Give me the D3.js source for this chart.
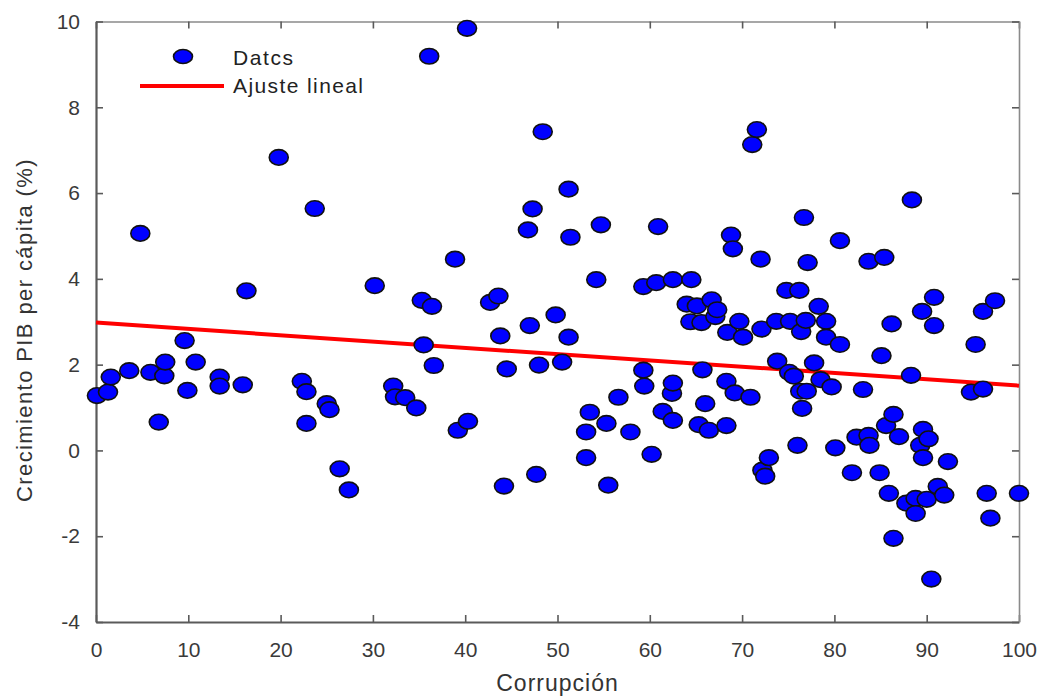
<!DOCTYPE html>
<html>
<head>
<meta charset="utf-8">
<script src="https://cdn.jsdelivr.net/npm/d3@7"></script>
<style>
  body { margin: 0; background: #fff; }
  svg text { font-family: "Liberation Sans", Arial, sans-serif; }
</style>
</head>
<body>
<svg id="chart" width="1045" height="699"></svg>
<script>
// Datos
const corrupcion = [
  0.1, 1.3, 1.6, 3.6, 4.8, 5.9, 6.8, 7.4, 7.5, 9.6, 9.9, 10.8, 13.4, 13.4, 15.9, 16.3,
  19.8, 22.3, 22.8, 22.8, 23.7, 25.0, 25.3, 26.4, 27.4, 30.2, 32.2, 32.4, 33.5, 34.7,
  35.3, 35.5, 36.1, 36.4, 36.6, 38.9, 39.2, 40.2, 40.3, 42.7, 43.6, 43.8, 44.2, 44.5,
  46.8, 47.0, 47.3, 47.7, 48.0, 48.4, 49.8, 50.5, 51.2, 51.2, 51.4, 53.1, 53.1, 53.5,
  54.2, 54.7, 55.3, 55.5, 56.6, 57.9, 59.3, 59.3, 59.4, 60.2, 60.7, 60.9, 61.4, 62.4,
  62.5, 62.5, 62.5, 64.0, 64.4, 64.5, 65.1, 65.3, 65.6, 65.7, 66.0, 66.4, 66.7, 67.1,
  67.3, 68.3, 68.3, 68.4, 68.8, 69.0, 69.2, 69.7, 70.1, 70.9, 71.1, 71.6, 72.0, 72.1,
  72.2, 72.5, 72.9, 73.7, 73.8, 74.8, 75.1, 75.2, 75.6, 76.0, 76.2, 76.3, 76.4, 76.5,
  76.7, 76.9, 77.0, 77.1, 77.8, 78.3, 78.5, 79.1, 79.1, 79.7, 80.1, 80.6, 80.6, 81.9,
  82.4, 83.1, 83.7, 83.7, 83.8, 84.9, 85.1, 85.4, 85.6, 85.9, 86.2, 86.4, 86.4, 87.0,
  87.8, 88.3, 88.4, 88.8, 88.8, 89.3, 89.5, 89.6, 89.6, 90.0, 90.2, 90.5, 90.8, 90.8,
  91.2, 91.9, 92.3, 94.8, 95.3, 96.1, 96.1, 96.5, 96.9, 97.4, 100.0
];
const crecimiento = [
  1.28, 1.36, 1.71, 1.86, 5.06, 1.82, 0.66, 1.74, 2.06, 2.56, 1.40, 2.06, 1.71, 1.50, 1.53, 3.72,
  6.83, 1.61, 1.37, 0.63, 5.64, 1.09, 0.95, -0.43, -0.92, 3.84, 1.50, 1.25, 1.23, 0.99,
  3.50, 2.46, 9.19, 3.36, 1.98, 4.46, 0.47, 9.84, 0.68, 3.45, 3.60, 2.67, -0.83, 1.90,
  5.14, 2.91, 5.63, -0.56, 1.99, 7.43, 3.16, 2.06, 6.09, 2.64, 4.97, 0.43, -0.17, 0.89,
  3.98, 5.26, 0.63, -0.81, 1.24, 0.43, 3.82, 1.87, 1.50, -0.09, 3.91, 5.22, 0.91, 1.33,
  3.98, 1.57, 0.70, 3.41, 3.00, 3.98, 3.37, 0.60, 2.98, 1.88, 1.09, 0.47, 3.51, 3.12,
  3.28, 1.61, 0.58, 2.75, 5.02, 4.70, 1.34, 3.01, 2.64, 1.24, 7.13, 7.48, 4.46, 2.83,
  -0.46, -0.60, -0.17, 3.01, 2.08, 3.73, 1.82, 3.01, 1.73, 0.12, 3.73, 1.38, 2.77, 0.98,
  5.43, 3.03, 1.38, 4.38, 2.04, 3.36, 1.65, 3.01, 2.64, 1.48, 0.06, 4.89, 2.47, -0.52,
  0.31, 1.42, 4.41, 0.35, 0.12, -0.52, 2.21, 4.50, 0.58, -1.00, 2.95, 0.84, -2.05, 0.32,
  -1.23, 1.75, 5.84, -1.12, -1.47, 0.12, 3.24, 0.49, -0.17, -1.14, 0.27, -3.00, 3.57, 2.91,
  -0.84, -1.04, -0.26, 1.36, 2.47, 3.24, 1.43, -1.00, -1.58, 3.49, -1.00
];
// Ajuste lineal (extremos leidos)
const ajusteX = [0, 100];
const ajusteY = [2.98, 1.51];

const xTicks = [0, 10, 20, 30, 40, 50, 60, 70, 80, 90, 100];
const yTicks = [-4, -2, 0, 2, 4, 6, 8, 10];

const width = 1045;
const height = 699;
const margin = { top: 21.5, right: 26, bottom: 77, left: 96 };
const innerWidth = width - margin.left - margin.right;
const innerHeight = height - margin.top - margin.bottom;

const svg = d3.select('#chart');

const xScale = d3.scaleLinear().domain([0, 100]).range([0, innerWidth]);
const yScale = d3.scaleLinear().domain([-4, 10]).range([innerHeight, 0]);

const g = svg.append('g')
  .attr('transform', `translate(${margin.left},${margin.top})`);

const axisColor = '#5a5a5a';
const tickLen = 7;
const plain = d => String(d);

// ejes (caja completa)
const xAxisG = g.append('g')
  .attr('transform', `translate(0,${innerHeight})`)
  .call(d3.axisBottom(xScale).tickValues(xTicks).tickFormat(plain)
    .tickSizeInner(-tickLen).tickSizeOuter(0).tickPadding(tickLen + 13));
const xTopG = g.append('g')
  .call(d3.axisTop(xScale).tickValues(xTicks).tickSizeInner(-tickLen).tickSizeOuter(0).tickFormat(''));
const yAxisG = g.append('g')
  .call(d3.axisLeft(yScale).tickValues(yTicks).tickFormat(plain)
    .tickSizeInner(-tickLen).tickSizeOuter(0).tickPadding(tickLen + 9));
const yRightG = g.append('g')
  .attr('transform', `translate(${innerWidth},0)`)
  .call(d3.axisRight(yScale).tickValues(yTicks).tickSizeInner(-tickLen).tickSizeOuter(0).tickFormat(''));

[xAxisG, xTopG, yAxisG, yRightG].forEach(a => {
  a.selectAll('.domain').attr('stroke', axisColor).attr('stroke-width', 2.2);
  a.selectAll('.tick line').attr('stroke', axisColor).attr('stroke-width', 1.6);
  a.selectAll('.tick text')
    .attr('fill', '#3a3a3a')
    .style('font-size', '21px');
});
xTopG.selectAll('.domain').attr('stroke-width', 1.6).attr('stroke', '#8a8a8a');
yRightG.selectAll('.domain').attr('stroke-width', 1.6).attr('stroke', '#8a8a8a');

// linea de ajuste
g.append('line')
  .attr('x1', xScale(ajusteX[0]))
  .attr('y1', yScale(ajusteY[0]))
  .attr('x2', xScale(ajusteX[1]))
  .attr('y2', yScale(ajusteY[1]))
  .attr('stroke', '#ff0000')
  .attr('stroke-width', 4);

// puntos
g.selectAll('ellipse.dato').data(corrupcion.map((c, i) => ({ x: c, y: crecimiento[i] })))
  .enter().append('ellipse')
  .attr('class', 'dato')
  .attr('cx', d => xScale(d.x))
  .attr('cy', d => yScale(d.y))
  .attr('rx', 9.5)
  .attr('ry', 7.8)
  .attr('fill', '#0000ff')
  .attr('stroke', '#111')
  .attr('stroke-width', 1.6);

// leyenda
const legend = g.append('g');
legend.append('ellipse')
  .attr('cx', 87).attr('cy', 35)
  .attr('rx', 9.5).attr('ry', 7)
  .attr('fill', '#0000ff').attr('stroke', '#111').attr('stroke-width', 1.6);
legend.append('text')
  .attr('x', 137).attr('y', 43)
  .attr('fill', '#222')
  .style('font-size', '21px')
  .style('letter-spacing', '1.6px')
  .text('Datcs');
legend.append('line')
  .attr('x1', 44).attr('x2', 128)
  .attr('y1', 64.5).attr('y2', 64.5)
  .attr('stroke', '#ff0000').attr('stroke-width', 4);
legend.append('text')
  .attr('x', 137).attr('y', 71)
  .attr('fill', '#222')
  .style('font-size', '21px')
  .style('letter-spacing', '1.4px')
  .text('Ajuste lineal');

// titulos de ejes
svg.append('text')
  .attr('x', margin.left + innerWidth / 2)
  .attr('y', 691)
  .attr('text-anchor', 'middle')
  .attr('fill', '#333')
  .style('font-size', '23px')
  .style('letter-spacing', '1px')
  .text('Corrupción');

svg.append('text')
  .attr('transform', `translate(32,${330}) rotate(-90)`)
  .attr('text-anchor', 'middle')
  .attr('fill', '#333')
  .style('font-size', '22px')
  .style('letter-spacing', '1.4px')
  .text('Crecimiento PIB per cápita (%)');
</script>
</body>
</html>
